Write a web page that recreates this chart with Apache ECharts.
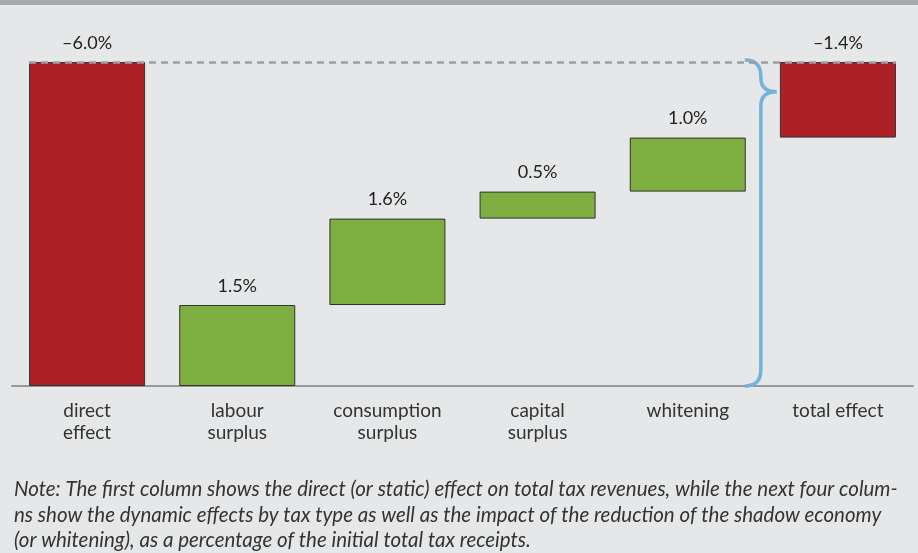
<!DOCTYPE html>
<html>
<head>
<meta charset="utf-8">
<script src="https://cdn.jsdelivr.net/npm/echarts@6/dist/echarts.min.js"></script>
<style>
  html, body { margin: 0; padding: 0; background: #e6e7e8; }
  #chart { width: 918px; height: 553px; }
</style>
</head>
<body>
<div id="chart"></div>
<script>
  var categories = ['direct\neffect', 'labour\nsurplus', 'consumption\nsurplus', 'capital\nsurplus', 'whitening', 'total effect'];
  var changes = [-6.0, 1.5, 1.6, 0.5, 1.0, -1.4];
  var labels = ['–6.0%', '1.5%', '1.6%', '0.5%', '1.0%', '–1.4%'];
  var noteText = 'Note: The first column shows the direct (or static) effect on total tax revenues, while the next four colum-\nns show the dynamic effects by tax type as well as the impact of the reduction of the shadow economy\n(or whitening), as a percentage of the initial total tax receipts.';

  // waterfall: invisible base + visible height
  var base = [], height = [], running = 0;
  changes.forEach(function (v, i) {
    if (i === 0) { base.push(0); height.push(Math.abs(v)); }
    else if (i === changes.length - 1) { base.push(running); height.push(Math.abs(v)); }
    else { base.push(running); height.push(v); running += v; }
  });
  var top0 = Math.abs(changes[0]);

  var chart = echarts.init(document.getElementById('chart'));
  chart.setOption({
    backgroundColor: '#e6e7e8',
    animation: false,
    textStyle: { fontFamily: 'Lato' },
    grid: { left: 12, right: 5, top: 62, bottom: 167 },
    xAxis: {
      type: 'category',
      data: categories,
      axisTick: { show: false },
      axisLine: { lineStyle: { color: '#98999b', width: 2 } },
      axisLabel: { color: '#333', fontSize: 19, lineHeight: 22, margin: 14, interval: 0 }
    },
    yAxis: { type: 'value', min: 0, max: top0, show: false, splitLine: { show: false } },
    graphic: [
      { type: 'rect', left: 0, top: 0, shape: { width: 918, height: 5 }, style: { fill: '#a7a9ac' } },
      { type: 'text', left: 14, top: 477, style: { text: noteText, fontFamily: 'Lato', fontStyle: 'italic', fontSize: 20.5, lineHeight: 25.5, fill: '#333' } }
    ],
    series: [
      {
        type: 'bar', stack: 'w', data: base, barWidth: 116,
        itemStyle: { color: 'transparent' }, silent: true,
        markLine: {
          symbol: 'none', silent: true, label: { show: false },
          lineStyle: { color: '#9d9fa2', type: [7, 5], width: 2.5 },
          data: [[{ xAxis: 0, yAxis: top0, x: 29 }, { xAxis: 5, yAxis: top0, x: 896 }]]
        }
      },
      {
        type: 'bar', stack: 'w', barWidth: 116,
        data: height.map(function (h, i) {
          var neg = changes[i] < 0;
          return { value: h, itemStyle: { color: neg ? '#ad2025' : '#7ead40' } };
        }),
        itemStyle: { borderColor: '#333', borderWidth: 1 },
        label: {
          show: true, position: 'top', distance: 10, color: '#222', fontSize: 18,
          formatter: function (p) { return labels[p.dataIndex]; }
        }
      },
      {
        type: 'custom',
        data: [[4.5, 0, top0, 5.45]],
        renderItem: function (params, api) {
          var a = api.coord([4, 0]), b = api.coord([5, 0]);
          var x = (a[0] + b[0]) / 2 - 2;
          var y0 = api.coord([4, api.value(1)])[1];
          var y1 = api.coord([4, api.value(2)])[1] - 2;
          var yt = api.coord([4, api.value(3)])[1];
          var r = 16;
          var d = 'M' + (x - r) + ' ' + y1 +
            ' Q' + x + ' ' + y1 + ' ' + x + ' ' + (y1 + r) +
            ' L' + x + ' ' + (yt - 14) +
            ' Q' + x + ' ' + yt + ' ' + (x + r) + ' ' + yt +
            ' Q' + x + ' ' + yt + ' ' + x + ' ' + (yt + 14) +
            ' L' + x + ' ' + (y0 - r) +
            ' Q' + x + ' ' + y0 + ' ' + (x - r) + ' ' + y0;
          return {
            type: 'path',
            shape: { pathData: d },
            style: { fill: 'none', stroke: '#73b2da', lineWidth: 3.5 }
          };
        }
      }
    ]
  });
</script>
</body>
</html>
